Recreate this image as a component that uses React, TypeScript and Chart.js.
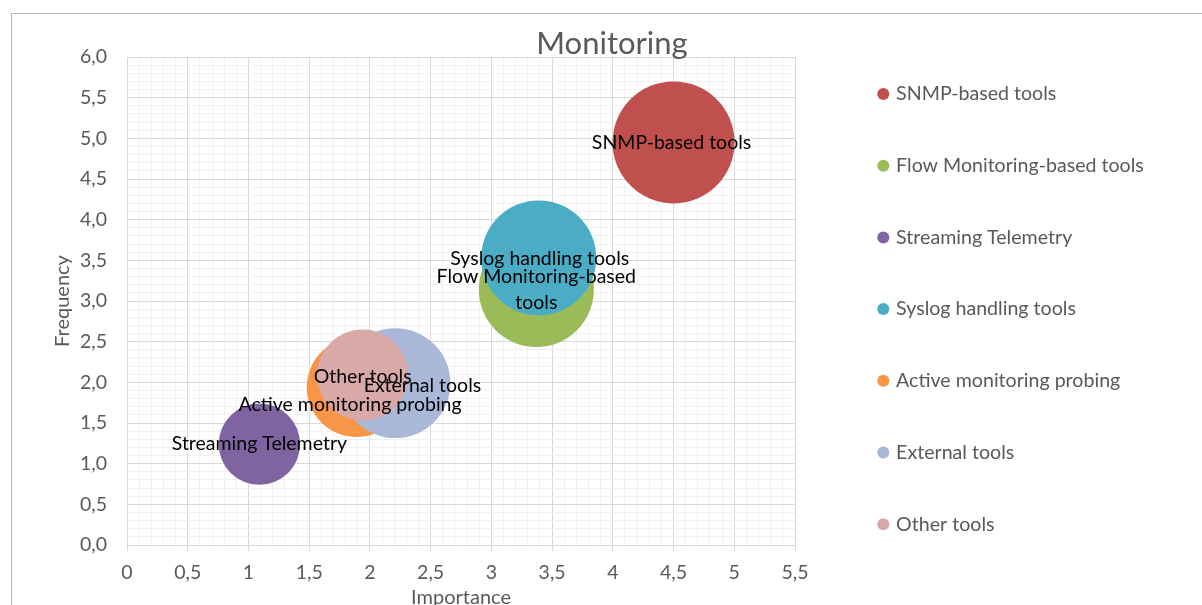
import React, { useEffect, useRef } from 'react';
import { Chart, registerables } from 'chart.js';

Chart.register(...registerables);

// ---------- data ----------
const seriesNames = [
  'SNMP-based tools',
  'Flow Monitoring-based tools',
  'Streaming Telemetry',
  'Syslog handling tools',
  'Active monitoring probing',
  'External tools',
  'Other tools',
];
const importance = [4.5, 3.37, 1.09, 3.39, 1.89, 2.21, 1.94];
const frequency = [4.95, 3.14, 1.24, 3.53, 1.94, 1.99, 2.09];
const bubbleSize = [4.5, 4.0, 2.0, 4.0, 3.0, 3.65, 2.5];
const xTickLabels = ['0', '0,5', '1', '1,5', '2', '2,5', '3', '3,5', '4', '4,5', '5', '5,5'];
const yTickLabels = ['0,0', '0,5', '1,0', '1,5', '2,0', '2,5', '3,0', '3,5', '4,0', '4,5', '5,0', '5,5', '6,0'];

// ---------- styles ----------
const seriesColors = ['#C0504D', '#9BBB59', '#8064A2', '#4BACC6', '#F79646', '#A9B8D9', '#D9A9A8'];
const labelDx = [-2, 0, 0, 1, -6.5, 27, 0];
const labelDy = [0, 0, 0, 1, 17.5, 2.5, 2];

const FONT = 'Lato';
const TEXT_GRAY = '#595959';
const MAJOR_GRID = '#d9d9d9';
const MINOR_GRID = '#f0f0f0';
const LABEL_SIZE = 19.5;
const LABEL_LINE = 26;
const LABEL_WRAP = 245;
const TICK_SIZE = 19.5;
const LEGEND_SIZE = 19.6;
const LEGEND_STEP = 71.7;
const LEGEND_BOX_X = 868.3; // canvas coords, left of legend marker box
const LEGEND_FIRST_CENTER = 80;
const CANVAS_W = 1200;
const CANVAS_H = 600;
const PLOT_LEFT_W = 115;
const PLOT_RIGHT = 783;
const PLOT_BOTTOM = 531;
const PLOT_MIN_DIM = 488;

function bubbleRadius(size: number): number {
  const maxR = 0.125 * PLOT_MIN_DIM;
  const maxSize = Math.max(...bubbleSize);
  return maxR * Math.sqrt(size / maxSize);
}

function wrapText(ctx: CanvasRenderingContext2D, text: string, maxW: number): string[] {
  const words = text.split(' ');
  const lines: string[] = [];
  let cur = '';
  for (const w of words) {
    const test = cur ? cur + ' ' + w : w;
    if (cur && ctx.measureText(test).width > maxW) {
      lines.push(cur);
      cur = w;
    } else {
      cur = test;
    }
  }
  if (cur) lines.push(cur);
  return lines;
}

const bubbleLabels = {
  id: 'bubbleLabels',
  afterDatasetsDraw(chart: any) {
    const ctx = chart.ctx as CanvasRenderingContext2D;
    ctx.save();
    ctx.font = `${LABEL_SIZE}px ${FONT}`;
    ctx.fillStyle = '#000000';
    ctx.textAlign = 'center';
    ctx.textBaseline = 'middle';
    chart.data.datasets.forEach((_ds: any, i: number) => {
      const el = chart.getDatasetMeta(i).data[0];
      if (!el) return;
      const lines = wrapText(ctx, seriesNames[i], LABEL_WRAP);
      const cx = el.x + labelDx[i];
      const cy = el.y + labelDy[i];
      const n = lines.length;
      lines.forEach((ln, k) => ctx.fillText(ln, cx, cy + (k - (n - 1) / 2) * LABEL_LINE));
    });
    ctx.restore();
  },
};

// Places the legend column and centres the title over the whole canvas.
const boxPlacer = {
  id: 'boxPlacer',
  afterLayout(chart: any) {
    const lg = chart.legend;
    if (lg) {
      const pad = LEGEND_STEP - LEGEND_SIZE;
      const left = LEGEND_BOX_X - pad;
      const top = LEGEND_FIRST_CENTER - LEGEND_SIZE / 2 - pad;
      lg.left = left;
      lg.right = chart.width;
      lg.width = chart.width - left;
      lg.top = top;
      lg.bottom = chart.height;
      lg.height = chart.height - top;
    }
    const tb = chart.titleBlock;
    if (tb) {
      tb.left = 0;
      tb.right = chart.width;
      tb.width = chart.width;
    }
  },
};

export default function App() {
  const ref = useRef<HTMLCanvasElement>(null);

  useEffect(() => {
    if (!ref.current) return;
    const datasets = seriesNames.map((name, i) => ({
      label: name,
      data: [{ x: importance[i], y: frequency[i], r: bubbleRadius(bubbleSize[i]) }],
      backgroundColor: seriesColors[i],
      borderWidth: 0,
      order: -i,
      hoverRadius: 0,
    }));

    const chart = new Chart(ref.current, {
      type: 'bubble',
      data: { datasets },
      plugins: [bubbleLabels, boxPlacer],
      options: {
        responsive: false,
        animation: false,
        devicePixelRatio: 1,
        events: [],
        layout: { autoPadding: false, padding: { left: 0, right: CANVAS_W - PLOT_RIGHT, top: 0, bottom: 0 } },
        plugins: {
          title: {
            display: true,
            text: 'Monitoring',
            color: TEXT_GRAY,
            font: { family: FONT, size: 31, weight: 'normal', lineHeight: 1 },
            padding: { top: 14.5, bottom: -2.5 },
          },
          legend: {
            position: 'chartArea',
            align: 'start',
            labels: {
              usePointStyle: true,
              pointStyle: 'circle',
              boxWidth: 6,
              boxHeight: 8.5,
              padding: LEGEND_STEP - LEGEND_SIZE,
              color: TEXT_GRAY,
              font: { family: FONT, size: LEGEND_SIZE },
              sort: (a: any, b: any) => a.datasetIndex - b.datasetIndex,
            },
          },
          tooltip: { enabled: false },
        },
        scales: {
          x: {
            type: 'linear',
            min: 0,
            max: 5.5,
            afterFit: (s: any) => {
              s.height = CANVAS_H - PLOT_BOTTOM;
            },
            ticks: {
              stepSize: 0.1,
              autoSkip: false,
              maxRotation: 0,
              color: TEXT_GRAY,
              font: { family: FONT, size: TICK_SIZE },
              padding: 10.5,
              callback: (_v: any, i: number) => (i % 5 === 0 ? xTickLabels[i / 5] : ''),
            },
            grid: {
              color: (c: any) => (c.index % 5 === 0 ? MAJOR_GRID : MINOR_GRID),
              tickColor: (c: any) => (c.index % 5 === 0 ? MAJOR_GRID : 'rgba(0,0,0,0)'),
              drawTicks: true,
              tickLength: 6,
            },
            border: { display: true, color: MAJOR_GRID },
            title: {
              display: true,
              text: 'Importance',
              color: TEXT_GRAY,
              font: { family: FONT, size: 20, lineHeight: 1.2 },
              padding: { top: 0, bottom: 4.5 },
            },
          },
          y: {
            type: 'linear',
            min: 0,
            max: 6,
            afterFit: (s: any) => {
              s.width = PLOT_LEFT_W;
            },
            ticks: {
              stepSize: 0.1,
              autoSkip: false,
              color: TEXT_GRAY,
              font: { family: FONT, size: TICK_SIZE },
              padding: 20,
              callback: (_v: any, i: number) => (i % 5 === 0 ? yTickLabels[i / 5] : ''),
            },
            grid: {
              color: (c: any) => (c.index % 5 === 0 ? MAJOR_GRID : MINOR_GRID),
              drawTicks: false,
            },
            border: { display: true, color: MAJOR_GRID },
            title: {
              display: true,
              text: 'Frequency',
              color: TEXT_GRAY,
              font: { family: FONT, size: 20, lineHeight: 1.2 },
              padding: { top: 39, bottom: 0 },
            },
          },
        },
      } as any,
    });
    return () => chart.destroy();
  }, []);

  return (
    <div
      style={{
        position: 'fixed',
        left: 11,
        top: 13,
        width: CANVAS_W,
        height: CANVAS_H,
        border: '1px solid #b4b4b4',
        background: '#ffffff',
      }}
    >
      <canvas ref={ref} width={CANVAS_W} height={CANVAS_H} style={{ display: 'block' }} />
    </div>
  );
}
